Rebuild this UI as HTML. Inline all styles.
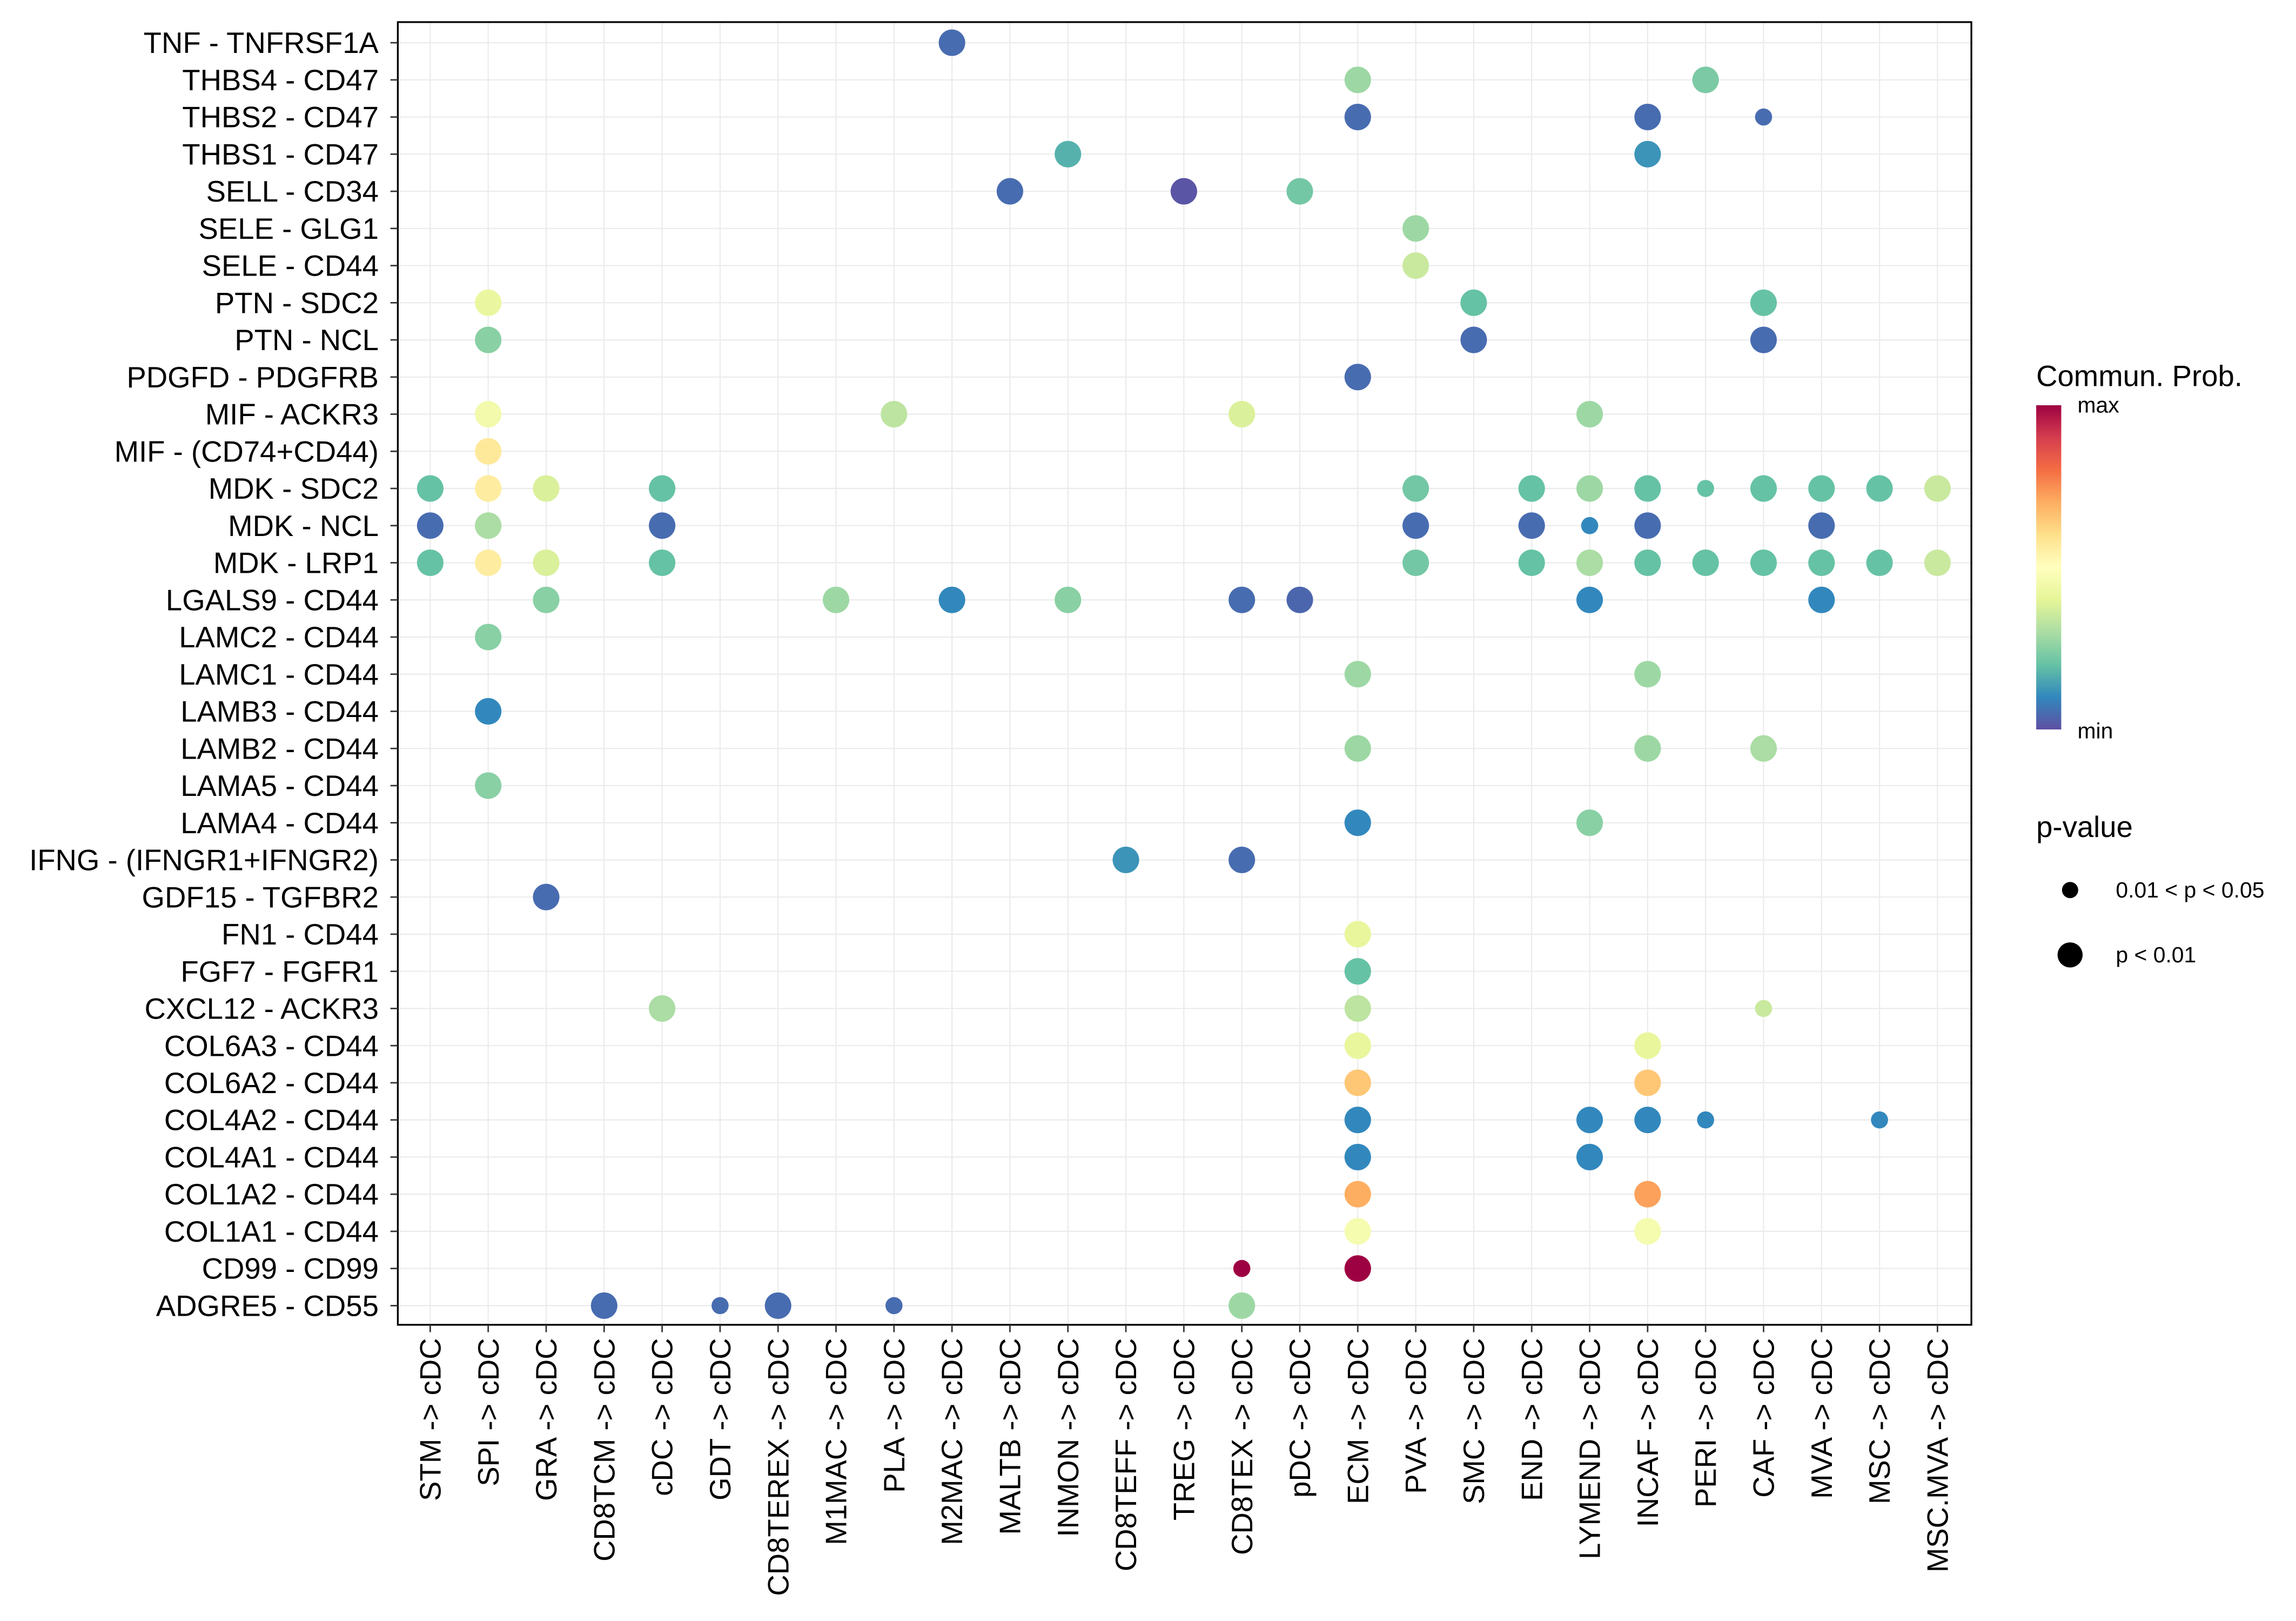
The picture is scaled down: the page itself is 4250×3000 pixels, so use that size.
<!DOCTYPE html>
<html><head><meta charset="utf-8"><style>html,body{margin:0;padding:0;background:#fff}svg{display:block;font-family:"Liberation Sans",sans-serif}</style></head>
<body>
<svg id="chart" width="4250" height="3000" viewBox="0 0 1558.33 1100" xmlns="http://www.w3.org/2000/svg">
<defs><linearGradient id="cb" x1="0" y1="1" x2="0" y2="0">
<stop offset="0" stop-color="#5E4FA2"/><stop offset="0.1" stop-color="#3288BD"/><stop offset="0.2" stop-color="#66C2A5"/><stop offset="0.3" stop-color="#ABDDA4"/><stop offset="0.4" stop-color="#E6F598"/><stop offset="0.5" stop-color="#FFFFBF"/><stop offset="0.6" stop-color="#FEE08B"/><stop offset="0.7" stop-color="#FDAE61"/><stop offset="0.8" stop-color="#F46D43"/><stop offset="0.9" stop-color="#D53E4F"/><stop offset="1" stop-color="#9E0142"/></linearGradient></defs>
<g id="grid"></g>
<g id="dots"></g>
<rect x="270" y="15" width="1068" height="884" fill="none" stroke="#000" stroke-width="1.2"/>
<g id="yaxis"></g>
<g id="xaxis"></g>
<g>
<text x="1382" y="262" font-size="20">Commun. Prob.</text>
<rect x="1382" y="275" width="17" height="220" fill="url(#cb)"/>
<text x="1410" y="280" font-size="15">max</text>
<text x="1410" y="501" font-size="15">min</text>
</g>
<g>
<text x="1382" y="568" font-size="20">p-value</text>
<circle cx="1405" cy="604" r="5.5" fill="#000"/>
<text x="1436" y="609" font-size="15">0.01 &lt; p &lt; 0.05</text>
<circle cx="1405" cy="648" r="8.5" fill="#000"/>
<text x="1436" y="653" font-size="15">p &lt; 0.01</text>
</g>
</svg>
<script>
const columns=["STM -> cDC","SPI -> cDC","GRA -> cDC","CD8TCM -> cDC","cDC -> cDC","GDT -> cDC","CD8TEREX -> cDC","M1MAC -> cDC","PLA -> cDC","M2MAC -> cDC","MALTB -> cDC","INMON -> cDC","CD8TEFF -> cDC","TREG -> cDC","CD8TEX -> cDC","pDC -> cDC","ECM -> cDC","PVA -> cDC","SMC -> cDC","END -> cDC","LYMEND -> cDC","INCAF -> cDC","PERI -> cDC","CAF -> cDC","MVA -> cDC","MSC -> cDC","MSC.MVA -> cDC"];
const rows=["TNF - TNFRSF1A","THBS4 - CD47","THBS2 - CD47","THBS1 - CD47","SELL - CD34","SELE - GLG1","SELE - CD44","PTN - SDC2","PTN - NCL","PDGFD - PDGFRB","MIF - ACKR3","MIF - (CD74+CD44)","MDK - SDC2","MDK - NCL","MDK - LRP1","LGALS9 - CD44","LAMC2 - CD44","LAMC1 - CD44","LAMB3 - CD44","LAMB2 - CD44","LAMA5 - CD44","LAMA4 - CD44","IFNG - (IFNGR1+IFNGR2)","GDF15 - TGFBR2","FN1 - CD44","FGF7 - FGFR1","CXCL12 - ACKR3","COL6A3 - CD44","COL6A2 - CD44","COL4A2 - CD44","COL4A1 - CD44","COL1A2 - CD44","COL1A1 - CD44","CD99 - CD99","ADGRE5 - CD55"];
// each point: row index, column index
const pointRow=[0,1,1,2,2,2,3,3,4,4,4,5,6,7,7,7,8,8,8,9,10,10,10,10,11,
12,12,12,12,12,12,12,12,12,12,12,12,12,
13,13,13,13,13,13,13,13,
14,14,14,14,14,14,14,14,14,14,14,14,14,
15,15,15,15,15,15,15,15,
16,17,17,18,19,19,19,20,21,21,22,22,23,24,25,26,26,26,27,27,28,28,
29,29,29,29,29,30,30,31,31,32,32,33,33,34,34,34,34,34];
const pointCol=[9,16,22,16,21,23,11,21,10,13,15,17,17,1,18,23,1,18,23,16,1,8,14,20,1,
0,1,2,4,17,19,20,21,22,23,24,25,26,
0,1,4,17,19,20,21,24,
0,1,2,4,17,19,20,21,22,23,24,25,26,
2,7,9,11,14,15,20,24,
1,16,21,1,16,21,23,1,16,20,12,14,2,16,16,4,16,23,16,21,16,21,
16,20,21,22,25,16,20,16,21,16,21,14,16,3,5,6,8,14];
const pointProb=[0.05,0.28,0.23,0.05,0.05,0.05,0.17,0.12,0.05,0.01,0.22,0.28,0.35,0.42,0.2,0.2,0.25,0.05,0.05,0.05,0.45,0.33,0.38,0.28,0.57,
0.2,0.56,0.38,0.2,0.22,0.2,0.28,0.2,0.2,0.2,0.2,0.2,0.35,
0.05,0.3,0.05,0.05,0.05,0.1,0.05,0.05,
0.2,0.56,0.38,0.2,0.22,0.2,0.3,0.2,0.2,0.2,0.2,0.2,0.35,
0.25,0.28,0.1,0.25,0.05,0.04,0.1,0.1,
0.25,0.28,0.28,0.1,0.28,0.28,0.3,0.25,0.1,0.25,0.12,0.05,0.05,0.41,0.2,0.3,0.33,0.35,0.41,0.41,0.65,0.65,
0.1,0.1,0.1,0.1,0.1,0.1,0.1,0.7,0.72,0.46,0.46,1.0,1.0,0.05,0.05,0.05,0.05,0.28];
// 1 = p<0.01 (large), 0 = 0.01<p<0.05 (small)
const pointSig=[1,1,1,1,1,0,1,1,1,1,1,1,1,1,1,1,1,1,1,1,1,1,1,1,1,
1,1,1,1,1,1,1,1,0,1,1,1,1,
1,1,1,1,1,0,1,1,
1,1,1,1,1,1,1,1,1,1,1,1,1,
1,1,1,1,1,1,1,1,
1,1,1,1,1,1,1,1,1,1,1,1,1,1,1,1,1,0,1,1,1,1,
1,1,1,0,0,1,1,1,1,1,1,0,1,1,0,1,0,1];
const NS="http://www.w3.org/2000/svg";
const PX0=270,PX1=1338,PY0=15,PY1=899;
const xS=i=>292+i*(1315-292)/(columns.length-1);
const yS=i=>29+i*(886-29)/(rows.length-1);
const stops=["#5E4FA2","#3288BD","#66C2A5","#ABDDA4","#E6F598","#FFFFBF","#FEE08B","#FDAE61","#F46D43","#D53E4F","#9E0142"];
function hx(h){return [1,3,5].map(k=>parseInt(h.substr(k,2),16));}
function col(v){v=Math.max(0,Math.min(1,v))*10;const i=Math.min(9,Math.floor(v)),t=v-i;const a=hx(stops[i]),b=hx(stops[i+1]);return "rgb("+a.map((c,k)=>Math.round(c+(b[k]-c)*t)).join(",")+")";}
function mk(tag,attrs,parent){const e=document.createElementNS(NS,tag);for(const k in attrs)e.setAttribute(k,attrs[k]);parent.appendChild(e);return e;}
const grid=document.getElementById("grid"),dots=document.getElementById("dots"),ya=document.getElementById("yaxis"),xa=document.getElementById("xaxis");
columns.forEach((c,i)=>{
 const x=xS(i);
 const g=mk("line",{x1:x,x2:x,y1:PY0,y2:PY1,stroke:"#ebebeb","stroke-width":0.8},grid);
 
 
 const t=mk("line",{x1:x,x2:x,y1:PY1,y2:PY1+5,stroke:"#333","stroke-width":1},xa);
 
 
 const l=mk("text",{transform:`translate(${x+7},${PY1+9}) rotate(-90)`,"text-anchor":"end","font-size":20,fill:"#000"},xa);
 l.textContent=c;
 
 
});
rows.forEach((r,i)=>{
 const y=yS(i);
 const g=mk("line",{x1:PX0,x2:PX1,y1:y,y2:y,stroke:"#ebebeb","stroke-width":0.8},grid);
 
 
 const t=mk("line",{x1:PX0-5,x2:PX0,y1:y,y2:y,stroke:"#333","stroke-width":1},ya);
 
 
 const l=mk("text",{x:PX0-13,y:y+7,"text-anchor":"end","font-size":20,fill:"#000"},ya);
 l.textContent=r;
 
 
});
pointRow.forEach((r,k)=>{
 const c=mk("circle",{cx:xS(pointCol[k]),cy:yS(r),r:pointSig[k]?9:5.8,fill:col(pointProb[k])},dots);
 
 
});
</script>
</body></html>
